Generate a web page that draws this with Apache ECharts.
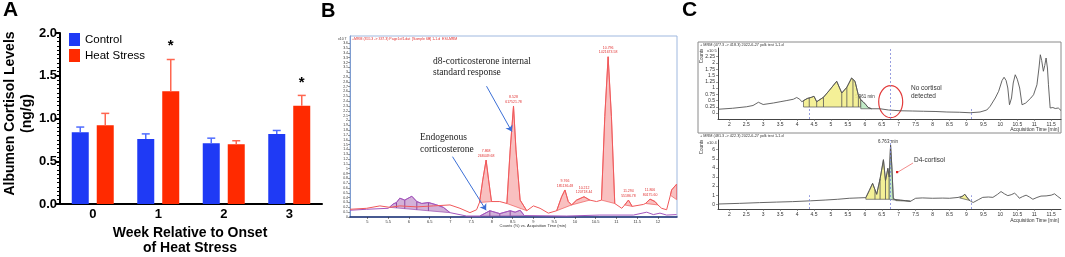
<!DOCTYPE html>
<html>
<head>
<meta charset="utf-8">
<script src="https://cdn.jsdelivr.net/npm/echarts@6/dist/echarts.min.js"></script>
<style>
  html, body { margin: 0; padding: 0; background: #fff; }
  #chart { width: 1065px; height: 257px; }
</style>
</head>
<body>
<div id="chart"></div>
<script>
// ---- Panel A: albumen cortisol bars ----
const weeks = ['0', '1', '2', '3'];
const controlMean = [0.84, 0.76, 0.71, 0.82];
const controlUpper = [0.90, 0.82, 0.77, 0.86];
const heatMean = [0.92, 1.32, 0.70, 1.15];
const heatUpper = [1.06, 1.69, 0.74, 1.27];
const sigWeeks = [1, 3];
const sigLevel = [1.88, 1.45];

// ---- Panel B: chromatogram (red = d8-corticosterone, purple = endogenous) ----
const bRedTime = [4.58, 4.98, 5.30, 5.54, 5.78, 6.19, 6.59, 6.99, 7.23, 7.47, 7.63, 7.70, 7.78, 7.86, 7.92, 7.99, 8.19, 8.36, 8.44, 8.52, 8.58, 8.68, 8.84, 9.00, 9.16, 9.36, 9.56, 9.68, 9.76, 9.84, 9.92, 10.04, 10.22, 10.36, 10.52, 10.64, 10.72, 10.80, 10.88, 10.96, 11.13, 11.20, 11.29, 11.38, 11.41, 11.65, 11.70, 11.81, 11.93, 12.00, 12.09, 12.21, 12.30, 12.33, 12.45];
const bRedCounts = [0.16, 0.18, 0.23, 0.20, 0.23, 0.21, 0.23, 0.25, 0.18, 0.09, 0.15, 0.30, 0.77, 1.18, 0.77, 0.32, 0.32, 0.28, 1.39, 2.30, 1.39, 0.35, 0.13, 0.23, 0.18, 0.08, 0.13, 0.42, 0.56, 0.32, 0.25, 0.35, 0.42, 0.35, 0.32, 0.35, 2.08, 3.32, 2.08, 0.28, 0.18, 0.25, 0.35, 0.22, 0.21, 0.26, 0.28, 0.37, 0.32, 0.25, 0.18, 0.15, 0.45, 0.56, 0.68];
const bPurpleTime = [4.58, 4.98, 5.50, 5.54, 5.62, 5.70, 5.78, 5.90, 6.07, 6.19, 6.31, 6.47, 6.67, 6.83, 6.99, 7.39, 7.71, 7.95, 8.19, 8.44, 8.56, 8.68, 8.78, 9.80, 10.60, 11.41, 11.73, 11.89, 12.05, 12.21, 12.45];
const bPurpleCounts = [0.14, 0.16, 0.18, 0.20, 0.27, 0.30, 0.39, 0.35, 0.43, 0.32, 0.28, 0.30, 0.25, 0.20, 0.09, 0.02, 0.02, 0.13, 0.07, 0.13, 0.10, 0.14, 0.03, 0.02, 0.04, 0.04, 0.10, 0.05, 0.08, 0.04, 0.05];
const bRedPeaks = [
  [[7.70, 0.30], [7.78, 0.77], [7.86, 1.18], [7.92, 0.77], [7.99, 0.32]],
  [[8.36, 0.28], [8.44, 1.39], [8.52, 2.30], [8.58, 1.39], [8.68, 0.35], [8.84, 0.13]],
  [[9.56, 0.13], [9.68, 0.42], [9.76, 0.56], [9.84, 0.32], [9.92, 0.25]],
  [[9.92, 0.25], [10.04, 0.35], [10.22, 0.42], [10.36, 0.35]],
  [[10.64, 0.35], [10.72, 2.08], [10.80, 3.32], [10.88, 2.08], [10.96, 0.28]],
  [[11.20, 0.25], [11.29, 0.35], [11.38, 0.22]],
  [[11.70, 0.28], [11.81, 0.37], [11.93, 0.32], [12.00, 0.25]],
  [[12.30, 0.45], [12.33, 0.56], [12.45, 0.68], [12.45, 0.36]]
];
const bPurplePeaks = [
  [[5.54, 0.20], [5.62, 0.27], [5.70, 0.30], [5.78, 0.39], [5.90, 0.35], [6.07, 0.43], [6.19, 0.32], [6.31, 0.28], [6.47, 0.30], [6.67, 0.25], [6.83, 0.20], [6.99, 0.09]],
  [[7.71, 0.02], [7.95, 0.13], [8.19, 0.07], [8.44, 0.13], [8.56, 0.10], [8.68, 0.14], [8.78, 0.03]]
];
const bPurpleCuts = [5.70, 5.90, 6.19, 6.47, 7.95, 8.19, 8.44];
const bPeakTimes = [7.86, 8.52, 9.76, 10.22, 10.80, 11.29, 11.81];
const bPeakTops = [1.18, 2.30, 0.56, 0.42, 3.32, 0.35, 0.37];
const bPeakLabels = ['7.868\n268449.68', '8.528\n617521.78', '9.766\n185136.48', '10.212\n120718.44', '10.796\n1421673.58', '11.294\n55186.78', '11.806\n80175.60'];
const bTimeTicks = [5, 5.5, 6, 6.5, 7, 7.5, 8, 8.5, 9, 9.5, 10, 10.5, 11, 11.5, 12];
const bCountTicks = Array.from({ length: 37 }, (_, i) => +(i * 0.1).toFixed(1));

// ---- Panel C: MRM chromatograms ----
const c1Time = [1.67, 2.10, 2.51, 2.70, 2.86, 3.00, 3.05, 3.30, 3.50, 3.70, 3.89, 3.99, 4.08, 4.14, 4.19, 4.30, 4.43, 4.50, 4.58, 4.63, 4.78, 4.95, 5.17, 5.32, 5.47, 5.61, 5.71, 5.81, 5.88, 5.95, 6.02, 6.10, 6.20, 6.45, 6.70, 7.04, 7.40, 7.73, 8.10, 8.42, 8.80, 9.11, 9.40, 9.60, 9.70, 9.85, 9.95, 10.05, 10.11, 10.17, 10.22, 10.27, 10.33, 10.38, 10.44, 10.50, 10.57, 10.64, 10.75, 10.90, 10.98, 11.08, 11.14, 11.18, 11.22, 11.27, 11.31, 11.35, 11.39, 11.42, 11.47, 11.55, 11.62, 11.71, 11.79];
const c1Counts = [0.15, 0.19, 0.25, 0.30, 0.43, 0.34, 0.32, 0.40, 0.45, 0.50, 0.55, 0.62, 0.55, 0.45, 0.50, 0.58, 0.63, 0.67, 0.45, 0.50, 0.63, 0.90, 1.27, 0.80, 1.03, 1.40, 1.27, 0.71, 0.53, 0.45, 0.35, 0.22, 0.17, 0.17, 0.12, 0.09, 0.08, 0.07, 0.06, 0.04, 0.03, 0.01, 0.04, 0.12, 0.27, 0.60, 0.87, 1.30, 1.43, 1.30, 1.00, 0.33, 0.60, 1.20, 1.53, 1.35, 1.00, 0.33, 0.40, 0.60, 0.73, 1.13, 1.80, 2.33, 2.10, 1.67, 1.90, 2.20, 1.80, 1.13, 0.20, 0.22, 0.18, 0.20, 0.10];
const c1Yellow = [[[4.19, 0.24], [4.19, 0.50], [4.30, 0.58], [4.43, 0.63], [4.50, 0.67], [4.58, 0.45], [4.63, 0.50], [4.78, 0.63], [4.95, 0.90], [5.17, 1.27], [5.32, 0.80], [5.47, 1.03], [5.61, 1.40], [5.71, 1.27], [5.81, 0.71], [5.88, 0.53], [5.88, 0.24]]];
const c1Green = [[[5.88, 0.17], [5.88, 0.53], [5.95, 0.45], [6.02, 0.35], [6.10, 0.22], [6.20, 0.17]]];
const c1Cuts = [4.36, 4.58, 4.78, 5.32, 5.47, 5.65, 5.81];
const c2Time = [1.67, 2.30, 2.89, 3.40, 3.87, 4.40, 4.85, 5.20, 5.54, 5.80, 6.03, 6.13, 6.23, 6.30, 6.35, 6.45, 6.55, 6.61, 6.68, 6.72, 6.76, 6.80, 6.84, 6.92, 7.05, 7.20, 7.35, 7.50, 7.70, 8.00, 8.30, 8.50, 8.75, 8.89, 8.95, 9.05, 9.12, 9.20, 9.35, 9.48, 9.65, 9.78, 9.92, 10.02, 10.12, 10.22, 10.32, 10.42, 10.50, 10.56, 10.66, 10.76, 10.86, 10.96, 11.08, 11.20, 11.35, 11.50, 11.60, 11.68, 11.79];
const c2Counts = [0.03, 0.10, 0.18, 0.24, 0.29, 0.38, 0.47, 0.55, 0.66, 0.70, 0.73, 1.50, 2.30, 1.60, 1.10, 2.80, 4.90, 2.60, 3.95, 3.00, 6.50, 4.00, 0.60, 0.50, 0.45, 0.40, 0.33, 0.66, 0.70, 0.66, 0.68, 0.66, 0.75, 0.90, 1.10, 0.60, 0.33, 0.20, 0.50, 0.76, 0.80, 0.76, 1.10, 1.40, 1.15, 0.95, 1.05, 1.22, 0.95, 0.66, 0.85, 1.00, 0.80, 0.55, 0.75, 0.90, 0.92, 1.00, 1.15, 0.90, 0.60];
const c2Yellow = [
  [[6.03, 0.55], [6.03, 0.73], [6.13, 1.50], [6.23, 2.30], [6.30, 1.60], [6.35, 1.10], [6.45, 2.80], [6.55, 4.90], [6.61, 2.60], [6.68, 3.95], [6.72, 3.00], [6.72, 0.55]],
  [[6.92, 0.40], [6.92, 0.50], [7.05, 0.45], [7.20, 0.40], [7.35, 0.33]],
  [[8.80, 0.70], [8.89, 0.90], [8.95, 1.10], [9.05, 0.60], [9.10, 0.42]]
];
const c2Green = [[[6.72, 0.55], [6.72, 3.00], [6.76, 6.50], [6.80, 4.00], [6.84, 0.60], [6.92, 0.50], [6.92, 0.45]]];
const c2Cuts = [6.30, 6.45, 6.61];
const c1CountTicks = [0, 0.25, 0.5, 0.75, 1, 1.25, 1.5, 1.75, 2, 2.25];
const c2CountTicks = [0, 1, 2, 3, 4, 5, 6];
const cTimeTicks = [2, 2.5, 3, 3.5, 4, 4.5, 5, 5.5, 6, 6.5, 7, 7.5, 8, 8.5, 9, 9.5, 10, 10.5, 11, 11.5];
const cMarkerTimes = [4.36, 6.76, 9.13];

const pair = (xs, ys) => xs.map((x, i) => [x, ys[i]]);
const SANS = 'Liberation Sans';

function interpY(pts, x) {
  for (let i = 0; i < pts.length - 1; i++) {
    const a = pts[i], b = pts[i + 1];
    if (b[0] > a[0] && x >= a[0] && x <= b[0]) {
      return a[1] + (b[1] - a[1]) * (x - a[0]) / (b[0] - a[0]);
    }
  }
  return null;
}

// filled integration regions, optional vertical cut lines down to the baseline
function fillSeries(peaks, gi, fill, edge, cuts, cutColor) {
  return {
    type: 'custom', xAxisIndex: gi, yAxisIndex: gi, silent: true, z: 1,
    data: peaks.map((pk, i) => [pk[0][0], pk[0][1], i]),
    encode: { x: 0, y: 1 },
    renderItem: (params, api) => {
      const pk = peaks[api.value(2)];
      const children = [{
        type: 'polygon',
        shape: { points: pk.map(p => api.coord(p)) },
        style: { fill: fill, stroke: edge, lineWidth: 0.7 }
      }];
      const first = pk[0], last = pk[pk.length - 1];
      (cuts || []).forEach(cx => {
        if (cx <= first[0] || cx >= last[0]) return;
        const top = interpY(pk, cx);
        const base = first[1] + (last[1] - first[1]) * (cx - first[0]) / (last[0] - first[0]);
        if (top == null) return;
        const p1 = api.coord([cx, top]), p2 = api.coord([cx, base]);
        children.push({ type: 'line', shape: { x1: p1[0], y1: p1[1], x2: p2[0], y2: p2[1] },
          style: { stroke: cutColor, lineWidth: 0.8 } });
      });
      return { type: 'group', children };
    }
  };
}

function errorBars(mean, upper, dx, color) {
  return {
    type: 'custom', xAxisIndex: 0, yAxisIndex: 0, silent: true, z: 3,
    data: mean.map((m, i) => [i, m, upper[i]]),
    encode: { x: 0, y: [1, 2] },
    renderItem: (params, api) => {
      const lo = api.coord([api.value(0), api.value(1)]);
      const hi = api.coord([api.value(0), api.value(2)]);
      const x = lo[0] + dx;
      return { type: 'group', children: [
        { type: 'line', shape: { x1: x, y1: lo[1], x2: x, y2: hi[1] }, style: { stroke: color, lineWidth: 1.5 } },
        { type: 'line', shape: { x1: x - 4, y1: hi[1], x2: x + 4, y2: hi[1] }, style: { stroke: color, lineWidth: 1.5 } }
      ] };
    }
  };
}

function smallAxis(extra) {
  return Object.assign({
    type: 'value', splitLine: { show: false },
    axisLine: { show: true, onZero: false, lineStyle: { color: '#444', width: 1 } },
    axisTick: { show: true, length: 2, lineStyle: { color: '#555', width: 0.6 } },
    axisLabel: { fontSize: 5, color: '#333', margin: 3, fontFamily: SANS }
  }, extra);
}

function vmarks(ys, yTop) {
  return cMarkerTimes.map((t, i) => [{ coord: [t, ys] }, { coord: [t, i === 1 ? yTop[1] : yTop[0]] }]);
}

const chart = echarts.init(document.getElementById('chart'));

const option = {
  animation: false,
  textStyle: { fontFamily: SANS },
  legend: {
    data: ['Control', 'Heat Stress'], orient: 'vertical', left: 69, top: 33,
    itemWidth: 11, itemHeight: 13, itemGap: 3, padding: 0, icon: 'rect',
    textStyle: { fontSize: 11.5, color: '#000', fontFamily: SANS }
  },
  grid: [
    { left: 60, top: 33, width: 262, height: 171 },
    { left: 350, top: 36, width: 327, height: 181, show: true, borderColor: '#9fb8df', borderWidth: 1 },
    { left: 718, top: 48, width: 343, height: 71 },
    { left: 718, top: 140, width: 343, height: 69 }
  ],
  xAxis: [
    { gridIndex: 0, type: 'category', data: weeks,
      axisLine: { lineStyle: { color: '#000', width: 2 } }, axisTick: { show: false },
      axisLabel: { color: '#000', fontWeight: 'bold', fontSize: 13, margin: 4 } },
    smallAxis({ gridIndex: 1, min: 4.58, max: 12.46,
      axisLine: { show: true, onZero: false, lineStyle: { color: '#1b2f73', width: 1.5 } },
      axisTick: { show: true, length: 2, customValues: bTimeTicks, lineStyle: { color: '#333', width: 0.6 } },
      axisLabel: { fontSize: 4, color: '#333', margin: 3, customValues: bTimeTicks } }),
    smallAxis({ gridIndex: 2, min: 1.667, max: 11.79,
      axisTick: { show: true, length: 2, customValues: cTimeTicks, lineStyle: { color: '#555', width: 0.6 } },
      axisLabel: { fontSize: 5, color: '#333', margin: 3, customValues: cTimeTicks } }),
    smallAxis({ gridIndex: 3, min: 1.667, max: 11.79,
      axisTick: { show: true, length: 2, customValues: cTimeTicks, lineStyle: { color: '#555', width: 0.6 } },
      axisLabel: { fontSize: 5, color: '#333', margin: 3, customValues: cTimeTicks } })
  ],
  yAxis: [
    { gridIndex: 0, type: 'value', min: 0, max: 2, interval: 0.5,
      axisLine: { show: true, lineStyle: { color: '#000', width: 2 } },
      axisTick: { show: true, length: 5, lineStyle: { color: '#000', width: 2 } },
      minorTick: { show: true, splitNumber: 10, length: 3, lineStyle: { color: '#000', width: 1 } },
      splitLine: { show: false },
      axisLabel: { color: '#000', fontWeight: 'bold', fontSize: 13, margin: 3, formatter: v => v.toFixed(1) } },
    smallAxis({ gridIndex: 1, min: 0, max: 3.75,
      axisLine: { show: true, lineStyle: { color: '#7d9cd0', width: 1 } },
      axisTick: { show: true, length: 2, customValues: bCountTicks, lineStyle: { color: '#333', width: 0.5 } },
      axisLabel: { fontSize: 3.5, color: '#333', margin: 2, customValues: bCountTicks } }),
    smallAxis({ gridIndex: 2, min: -0.24, max: 2.6,
      axisTick: { show: true, length: 2, customValues: c1CountTicks, lineStyle: { color: '#555', width: 0.6 } },
      axisLabel: { fontSize: 5, color: '#333', margin: 3, customValues: c1CountTicks } }),
    smallAxis({ gridIndex: 3, min: -0.52, max: 7.07,
      axisTick: { show: true, length: 2, customValues: c2CountTicks, lineStyle: { color: '#555', width: 0.6 } },
      axisLabel: { fontSize: 5, color: '#333', margin: 3, customValues: c2CountTicks } })
  ],
  series: [
    // Panel A
    { name: 'Control', type: 'bar', xAxisIndex: 0, yAxisIndex: 0, data: controlMean,
      barWidth: 17, barGap: '47%', itemStyle: { color: '#1f3af5' }, z: 2 },
    { name: 'Heat Stress', type: 'bar', xAxisIndex: 0, yAxisIndex: 0, data: heatMean,
      barWidth: 17, itemStyle: { color: '#ff2a00' }, z: 2 },
    errorBars(controlMean, controlUpper, -12.5, '#4f6cff'),
    errorBars(heatMean, heatUpper, 12.5, '#ff6650'),
    { type: 'custom', xAxisIndex: 0, yAxisIndex: 0, silent: true, z: 4,
      data: sigWeeks.map((w, i) => [w, sigLevel[i]]),
      renderItem: (params, api) => {
        const p = api.coord([api.value(0), api.value(1)]);
        return { type: 'text', x: p[0] + 12.5, y: p[1] + 3,
          style: { text: '*', font: 'bold 15px Liberation Sans', fill: '#000', textAlign: 'center', textVerticalAlign: 'middle' } };
      } },

    // Panel B
    fillSeries(bRedPeaks, 1, 'rgba(240,90,90,0.38)', '#ef5a5a', null, null),
    fillSeries(bPurplePeaks, 1, 'rgba(150,70,165,0.42)', '#9a4db0', bPurpleCuts, '#7a2f8f'),
    { type: 'line', xAxisIndex: 1, yAxisIndex: 1, data: pair(bPurpleTime, bPurpleCounts),
      showSymbol: false, silent: true, z: 2, lineStyle: { color: '#a455bd', width: 1 } },
    { type: 'line', xAxisIndex: 1, yAxisIndex: 1, data: pair(bRedTime, bRedCounts),
      showSymbol: false, silent: true, z: 2, lineStyle: { color: '#f0585a', width: 1 },
      markLine: { silent: true, symbol: ['none', 'arrow'], symbolSize: 6,
        lineStyle: { color: '#3b6fd6', width: 1, type: 'solid' }, label: { show: false },
        data: [
          [{ coord: [7.87, 2.71] }, { coord: [8.48, 1.77] }],
          [{ coord: [7.05, 1.25] }, { coord: [7.86, 0.14] }]
        ] } },
    { type: 'custom', xAxisIndex: 1, yAxisIndex: 1, silent: true, z: 3,
      data: bPeakTimes.map((t, i) => [t, bPeakTops[i], i]),
      encode: { x: 0, y: 1 },
      renderItem: (params, api) => {
        const p = api.coord([api.value(0), api.value(1)]);
        return { type: 'text', x: p[0], y: p[1] - 2,
          style: { text: bPeakLabels[api.value(2)], font: '3.5px Liberation Sans', fill: '#e03030',
            textAlign: 'center', textVerticalAlign: 'bottom', lineHeight: 4.5 } };
      } },

    // Panel C
    fillSeries(c1Yellow, 2, 'rgba(243,238,140,0.9)', '#555', c1Cuts, '#555'),
    fillSeries(c1Green, 2, 'rgba(190,233,196,0.95)', '#555', null, null),
    { type: 'line', xAxisIndex: 2, yAxisIndex: 2, data: pair(c1Time, c1Counts),
      showSymbol: false, silent: true, z: 2, lineStyle: { color: '#555', width: 0.9 },
      markLine: { silent: true, symbol: 'none', label: { show: false },
        lineStyle: { color: '#7d86d8', width: 0.8, type: [2, 2] },
        data: vmarks(-0.24, [0.22, 2.6]) } },
    fillSeries(c2Yellow, 3, 'rgba(243,238,140,0.9)', '#555', c2Cuts, '#555'),
    fillSeries(c2Green, 3, 'rgba(190,233,196,0.95)', '#555', null, null),
    { type: 'line', xAxisIndex: 3, yAxisIndex: 3, data: pair(c2Time, c2Counts),
      showSymbol: false, silent: true, z: 2, lineStyle: { color: '#555', width: 0.9 },
      markLine: { silent: true, symbol: 'none', label: { show: false },
        lineStyle: { color: '#7d86d8', width: 0.8, type: [2, 2] },
        data: vmarks(-0.52, [1.0, 7.07]) } }
  ],
  graphic: [
    // panel letters
    { type: 'text', left: 3, top: 0, style: { text: 'A', font: 'bold 21px Liberation Sans', fill: '#000' } },
    { type: 'text', left: 321, top: 1, style: { text: 'B', font: 'bold 20px Liberation Sans', fill: '#000' } },
    { type: 'text', left: 682, top: 0, style: { text: 'C', font: 'bold 21px Liberation Sans', fill: '#000' } },

    // panel A titles
    { type: 'text', x: 18.5, y: 113.5, rotation: Math.PI / 2,
      style: { text: 'Albumen Cortisol Levels\n(ng/g)', font: 'bold 14px Liberation Sans', fill: '#000',
        textAlign: 'center', textVerticalAlign: 'middle', lineHeight: 17 } },
    { type: 'text', x: 190, y: 225,
      style: { text: 'Week Relative to Onset\nof Heat Stress', font: 'bold 14px Liberation Sans', fill: '#000',
        textAlign: 'center', textVerticalAlign: 'top', lineHeight: 15.5 } },

    // panel B texts
    { type: 'text', x: 352, y: 37, style: { text: '+MRM (355.3 -> 337.3) Page1of1.dat  [Sample 6B] 1-1.d  ESI-MRM', font: '3.5px Liberation Sans', fill: '#e03030' } },
    { type: 'text', x: 338, y: 37, style: { text: 'x10 7', font: '3.5px Liberation Sans', fill: '#333' } },
    { type: 'text', x: 533, y: 224, style: { text: 'Counts (%) vs. Acquisition Time (min)', font: '4px Liberation Sans', fill: '#333', textAlign: 'center' } },
    { type: 'text', x: 433, y: 56, style: { text: 'd8-corticosterone internal\nstandard response', font: '9.5px Liberation Serif', fill: '#222', lineHeight: 11 } },
    { type: 'text', x: 420, y: 132, style: { text: 'Endogenous\ncorticosterone', font: '9.5px Liberation Serif', fill: '#222', lineHeight: 11.5 } },

    // panel C texts and marks
    { type: 'rect', shape: { x: 698, y: 42, width: 363, height: 91 }, style: { fill: 'none', stroke: '#8a8a8a', lineWidth: 1 } },
    { type: 'text', x: 700, y: 43, style: { text: '+ MRM (477.3 -> 418.3) 2022-6-27 yolk test 1-1.d', font: '3.8px Liberation Sans', fill: '#333' } },
    { type: 'text', x: 700, y: 134, style: { text: '+ MRM (481.3 -> 422.3) 2022-6-27 yolk test 1-1.d', font: '3.8px Liberation Sans', fill: '#333' } },
    { type: 'text', x: 707, y: 49, style: { text: 'x10 5', font: '4px Liberation Sans', fill: '#333' } },
    { type: 'text', x: 707, y: 141, style: { text: 'x10 4', font: '4px Liberation Sans', fill: '#333' } },
    { type: 'text', x: 702, y: 56, rotation: Math.PI / 2, style: { text: 'Counts', font: '4.5px Liberation Sans', fill: '#333', textAlign: 'center', textVerticalAlign: 'middle' } },
    { type: 'text', x: 702, y: 147, rotation: Math.PI / 2, style: { text: 'Counts', font: '4.5px Liberation Sans', fill: '#333', textAlign: 'center', textVerticalAlign: 'middle' } },
    { type: 'text', x: 1059, y: 127.5, style: { text: 'Acquisition Time [min]', font: '5px Liberation Sans', fill: '#333', textAlign: 'right' } },
    { type: 'text', x: 1059, y: 218, style: { text: 'Acquisition Time [min]', font: '5px Liberation Sans', fill: '#333', textAlign: 'right' } },
    { type: 'text', x: 855, y: 94.5, style: { text: '5.961 min', font: '4.5px Liberation Sans', fill: '#333' } },
    { type: 'text', x: 888, y: 139.5, style: { text: '6.763 min', font: '4.5px Liberation Sans', fill: '#333', textAlign: 'center' } },
    { type: 'text', x: 911, y: 84, style: { text: 'No cortisol\ndetected', font: '6.5px Liberation Sans', fill: '#333', lineHeight: 8 } },
    { type: 'text', x: 914, y: 157, style: { text: 'D4-cortisol', font: '6.5px Liberation Sans', fill: '#333' } },
    { type: 'ellipse', shape: { cx: 890.7, cy: 101.7, rx: 12, ry: 16 }, style: { fill: 'none', stroke: '#e23a3a', lineWidth: 1.2 } },
    { type: 'line', shape: { x1: 913, y1: 163, x2: 898, y2: 172 }, style: { stroke: '#f07070', lineWidth: 0.8 } },
    { type: 'rect', shape: { x: 896, y: 171, width: 2.2, height: 2.2 }, style: { fill: '#e02020' } }
  ]
};

chart.setOption(option);
</script>
</body>
</html>
